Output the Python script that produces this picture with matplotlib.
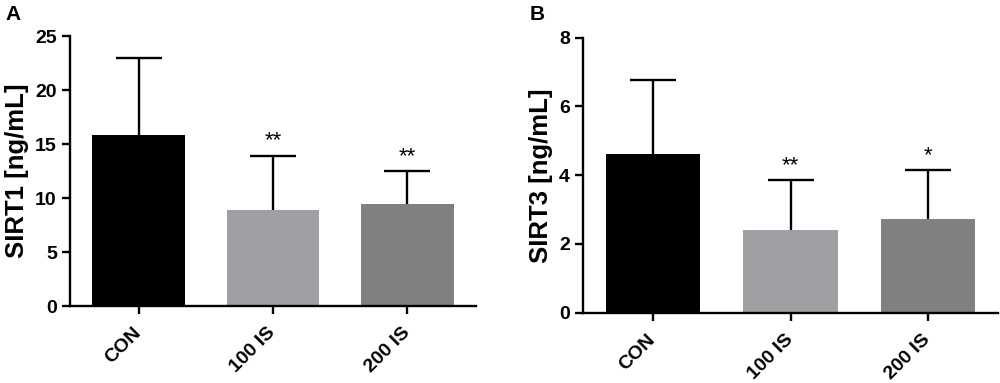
import matplotlib
matplotlib.use("Agg")
import matplotlib.pyplot as plt

plt.rcParams['font.family'] = ['Liberation Sans', 'DejaVu Sans']

categories = ["CON", "100 IS", "200 IS"]
sirt1_mean = [15.83, 8.89, 9.44]
sirt1_err = [7.10, 5.03, 3.06]
sirt1_sig = ["", "**", "**"]
sirt3_mean = [4.61, 2.42, 2.72]
sirt3_err = [2.15, 1.43, 1.42]
sirt3_sig = ["", "**", "*"]
bar_colors = ["#000000", "#a0a0a4", "#808080"]

fig = plt.figure(figsize=(10, 3.83), dpi=100)
axA = fig.add_axes([0.070, 0.201, 0.406, 0.705])
axB = fig.add_axes([0.583, 0.1835, 0.415, 0.718])


def panel(ax, means, errs, sigs, ylabel, ymax, ystep, letter, letter_x):
    x = list(range(len(categories)))
    ax.bar(x, means, width=0.69, color=bar_colors, zorder=2)
    eb = ax.errorbar(x, means, yerr=[[0] * len(errs), errs], fmt='none',
                     ecolor='black', elinewidth=1.7, capsize=16.5,
                     capthick=1.7, zorder=1)
    eb[1][0].set_visible(False)
    for xi, m, e, s in zip(x, means, errs, sigs):
        if s:
            ax.annotate(s, (xi, m + e), xytext=(0, 3), textcoords='offset points',
                        ha='center', va='bottom', fontsize=16)
    ax.set_xlim(-0.51, 2.51)
    ax.set_ylim(0, ymax)
    ax.set_yticks([i * ystep for i in range(int(ymax / ystep) + 1)])
    ax.set_xticks(x)
    ax.set_xticklabels(categories, rotation=45, ha='right', va='center',
                       rotation_mode='anchor', fontsize=14, fontweight='bold')
    for lab in ax.get_yticklabels():
        lab.set_fontweight('bold')
        lab.set_fontsize(14)
    ax.set_ylabel(ylabel, fontsize=18.5, fontweight='bold', labelpad=4)
    for sp in ['top', 'right']:
        ax.spines[sp].set_visible(False)
    for sp in ['left', 'bottom']:
        ax.spines[sp].set_linewidth(1.7)
    ax.tick_params(axis='both', direction='out', length=5.5, width=1.7, pad=4)
    ax.tick_params(axis='x', pad=12)
    fig.text(letter_x, 0.988, letter, fontsize=15, fontweight='bold',
             ha='left', va='top')


panel(axA, sirt1_mean, sirt1_err, sirt1_sig, "SIRT1 [ng/mL]", 25, 5, "A", 0.005)
panel(axB, sirt3_mean, sirt3_err, sirt3_sig, "SIRT3 [ng/mL]", 8, 2, "B", 0.530)

fig.savefig("out.png", dpi=100)
